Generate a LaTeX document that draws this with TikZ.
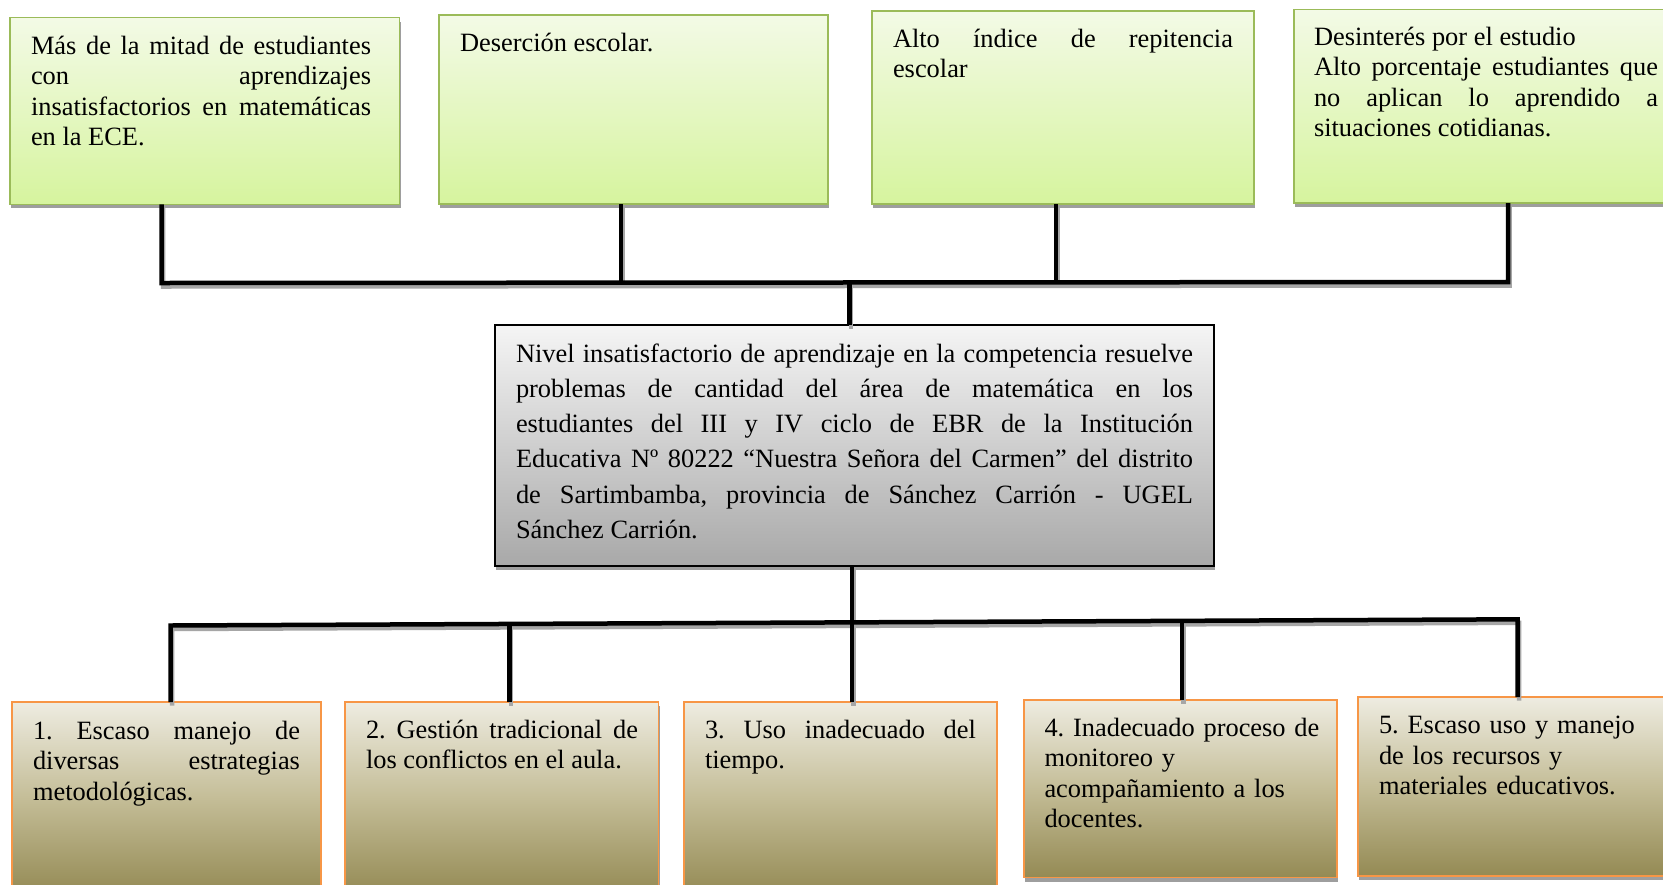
\documentclass[tikz,border=0pt]{standalone}
\usepackage{fontspec}
\setmainfont{Liberation Serif}
\usetikzlibrary{shadows}
\definecolor{GreenB}{HTML}{9BBB59}
\definecolor{GreenT}{RGB}{243,250,230}
\definecolor{GreenBot}{RGB}{214,244,158}
\definecolor{OrangeB}{HTML}{F79646}
\definecolor{TanT}{HTML}{EEECE1}
\definecolor{TanM}{HTML}{C4BD97}
\definecolor{TanB}{HTML}{948A54}
\frenchspacing
\newcommand\myconnectors[1]{%
  \draw[#1] (j1 |- t1.south) -- (j1) -- (j4) -- (j4 |- t4.south);
  \draw[#1] (j2 |- t2.south) -- (j2);
  \draw[#1] (j3 |- t3.south) -- (j3);
  \draw[#1] (jc) -- (jc |- c.north);
  \draw[#1] (k1 |- b1.north) -- (k1) -- (k5) -- (k5 |- b5.north);
  \draw[#1] (k2) -- (k2 |- b2.north);
  \draw[#1] (k4) -- (k4 |- b4.north);
  \draw[#1] (kc |- c.south) -- (kc |- b3.north);
}
\begin{document}
\begin{tikzpicture}[x=1pt,y=-1pt,
  boxshadow/.style={drop shadow={shadow xshift=1pt,shadow yshift=-4pt,fill=black!38,opacity=1}},
  topbox/.style={rectangle,inner sep=0pt,outer sep=0pt,draw=GreenB,line width=1.4pt,
     top color=GreenT,bottom color=GreenBot,boxshadow},
  centerbox/.style={rectangle,inner sep=0pt,outer sep=0pt,draw=black,line width=2pt,
     top color=white!96!black,bottom color=black!34,boxshadow},
  botbox/.style={rectangle,inner sep=0pt,outer sep=0pt,draw=OrangeB,line width=1.4pt,
     top color=TanT,bottom color=TanB,middle color=TanM,boxshadow},
  lbl/.style={anchor=base west,inner sep=0pt,outer sep=0pt,align=justify,
     font=\fontsize{26.4}{30.5}\selectfont\frenchspacing},
  rlbl/.style={lbl,align=left},
  clbl/.style={lbl,font=\fontsize{26.4}{35.3}\selectfont\frenchspacing},
  conn/.style={line width=4.5pt,black},
  connshadow/.style={line width=4.5pt,black!35}]
\useasboundingbox (0,0) rectangle (1663,884);
\clip (0,0) rectangle (1663,884);
\fill[white] (0,0) rectangle (1663,884);

% top boxes
\node[topbox,minimum width=389.5pt,minimum height=186.6pt] (t1) at (204.75,111) {};
\node[topbox,minimum width=389pt,minimum height=189pt] (t2) at (633.5,109.5) {};
\node[topbox,minimum width=382pt,minimum height=193pt] (t3) at (1063,107.5) {};
\node[topbox,minimum width=396pt,minimum height=193.7pt] (t4) at (1492,106.15) {};

% centre box
\node[centerbox,minimum width=719pt,minimum height=241pt] (c) at (854.5,445.5) {};

% bottom boxes
\node[botbox,minimum width=309pt,minimum height=193pt] (b1) at (166.5,798.5) {};
\node[botbox,minimum width=313.5pt,minimum height=193pt] (b2) at (501.75,798.5) {};
\node[botbox,minimum width=313pt,minimum height=193pt] (b3) at (840.5,798.5) {};
\node[botbox,minimum width=313pt,minimum height=177.7pt] (b4) at (1180.5,788.85) {};
\node[botbox,minimum width=332pt,minimum height=179pt] (b5) at (1524,786.5) {};

% texts
\node[lbl,text width=340pt] (t1x) at ([shift={(21,36.5)}]t1.north west)
  {Más de la mitad de estudiantes\linebreak con aprendizajes\linebreak insatisfactorios en matemáticas\linebreak en la ECE.};
\node[lbl,text width=347pt] (t2x) at ([shift={(21,36)}]t2.north west)
  {Deserción escolar.};
\node[lbl,text width=340pt] (t3x) at ([shift={(21,36)}]t3.north west)
  {Alto índice de repitencia\linebreak escolar};
\node[lbl,text width=344pt] (t4x) at ([shift={(20,36)}]t4.north west)
  {Desinterés por el estudio\hfill\break Alto porcentaje estudiantes que\linebreak no aplican lo aprendido a\linebreak situaciones cotidianas.};
\node[clbl,text width=677pt] (cx) at ([shift={(21,37)}]c.north west)
  {Nivel insatisfactorio de aprendizaje en la competencia resuelve\linebreak problemas de cantidad del área de matemática en los\linebreak estudiantes del III y IV ciclo de EBR de la Institución\linebreak Educativa Nº 80222 “Nuestra Señora del Carmen” del distrito\linebreak de Sartimbamba, provincia de Sánchez Carrión - UGEL\linebreak Sánchez Carrión.};
\node[lbl,text width=267pt] (b1x) at ([shift={(21,37)}]b1.north west)
  {1. Escaso manejo de\linebreak diversas estrategias\linebreak metodológicas.};
\node[lbl,text width=272pt] (b2x) at ([shift={(21,36)}]b2.north west)
  {2. Gestión tradicional de\linebreak los conflictos en el aula.};
\node[lbl,text width=271pt] (b3x) at ([shift={(21,36)}]b3.north west)
  {3. Uso inadecuado del\linebreak tiempo.};
\node[rlbl,text width=290pt] (b4x) at ([shift={(20.5,36)}]b4.north west)
  {4. Inadecuado proceso de\\ monitoreo y\\ acompañamiento a los\\ docentes.};
\node[rlbl,text width=290pt] (b5x) at ([shift={(21,36.5)}]b5.north west)
  {5. Escaso uso y manejo\\ de los recursos y\\ materiales educativos.};

% junctions
\coordinate (j1) at (161.5,283);
\coordinate (j2) at (621,283);
\coordinate (jc) at (849.5,283);
\coordinate (j3) at (1056,283);
\coordinate (j4) at (1508,282);
\coordinate (k1) at (170.7,625.5);
\coordinate (k2) at (509.5,624.5);
\coordinate (kc) at (852,623);
\coordinate (k4) at (1182,621.5);
\coordinate (k5) at (1517.7,619.3);

\begin{scope}[transform canvas={xshift=1.5pt,yshift=-3.5pt}]
  \myconnectors{connshadow}
\end{scope}
\myconnectors{conn}
\end{tikzpicture}
\end{document}
